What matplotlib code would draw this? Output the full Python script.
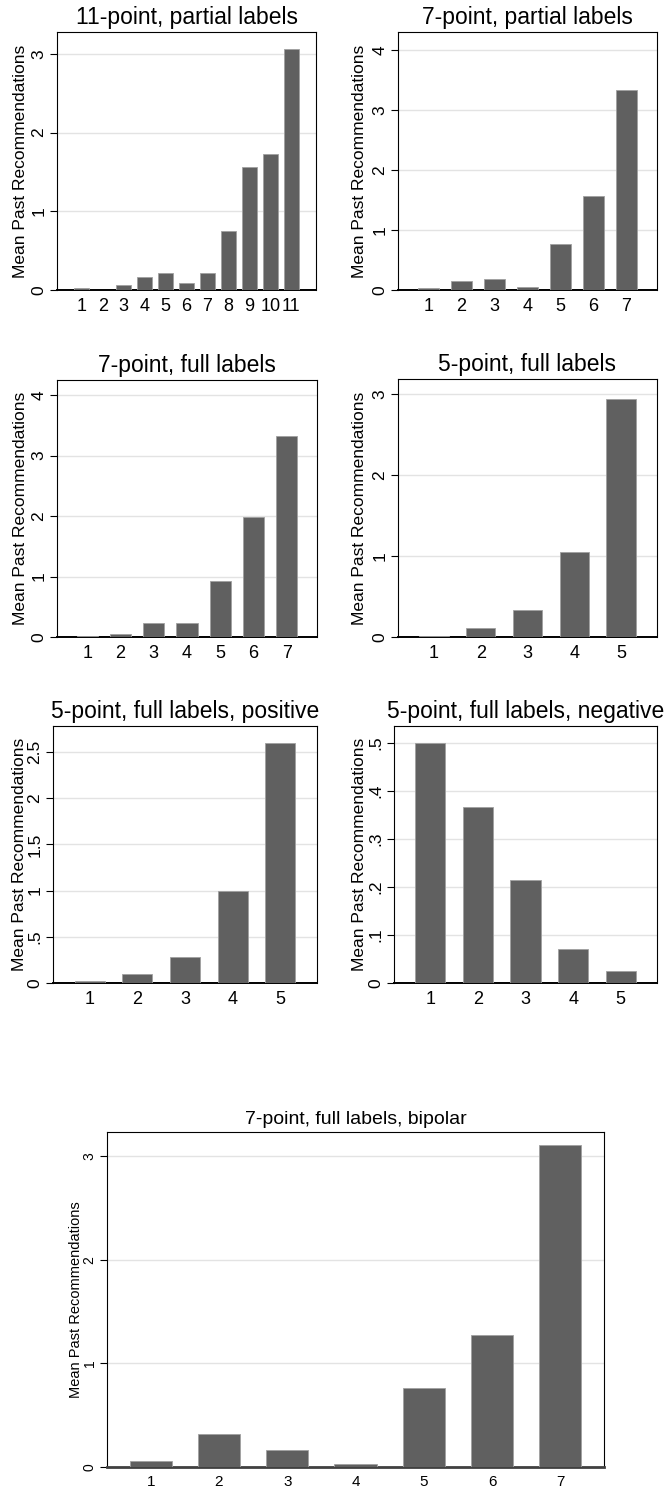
import numpy as np
import matplotlib.pyplot as plt

plt.rcParams['font.family'] = ['Liberation Sans', 'DejaVu Sans']

W, H = 666, 1488

# mean past recommendations by scale point, one list per scale version
titles = [
    "11-point, partial labels",
    "7-point, partial labels",
    "7-point, full labels",
    "5-point, full labels",
    "5-point, full labels, positive",
    "5-point, full labels, negative",
    "7-point, full labels, bipolar",
]
pts11_partial = [0.03, 0.0, 0.065, 0.16, 0.22, 0.095, 0.22, 0.755, 1.57, 1.73, 3.06]
pts7_partial = [0.04, 0.15, 0.18, 0.055, 0.76, 1.57, 3.33]
pts7_full = [0.01, 0.045, 0.23, 0.23, 0.92, 1.99, 3.33]
pts5_full = [0.015, 0.11, 0.33, 1.05, 2.94]
pts5_positive = [0.025, 0.095, 0.285, 1.0, 2.6]
pts5_negative = [0.499, 0.367, 0.215, 0.071, 0.024]
pts7_bipolar = [0.058, 0.32, 0.167, 0.03, 0.762, 1.277, 3.10]

ticks_0to3 = [0, 1, 2, 3]
labels_0to3 = ["0", "1", "2", "3"]
ticks_0to4 = [0, 1, 2, 3, 4]
labels_0to4 = ["0", "1", "2", "3", "4"]
ticks_half = [0, 0.5, 1, 1.5, 2, 2.5]
labels_half = ["0", ".5", "1", "1.5", "2", "2.5"]
ticks_tenth = [0, 0.1, 0.2, 0.3, 0.4, 0.5]
labels_tenth = ["0", ".1", ".2", ".3", ".4", ".5"]

YLABEL = "Mean Past Recommendations"
BAR = '#606060'
EDGE = '#a0a0a0'
GRID = '#e3e3e3'


def px_box(left, top, right, bottom):
    return [left / W, 1 - bottom / H, (right - left) / W, (bottom - top) / H]


def draw_panel(fig, box, title, vals, yticks, ylabels, ytop, pad, width,
               label_x, fs_title=16.5, fs_label=12.5, fs_tick=12.5, fs_xtick=13):
    left, top, right, bottom = box
    ax = fig.add_axes(px_box(*box))
    x = np.arange(1, len(vals) + 1)
    ax.bar(x, vals, width=width, color=BAR, edgecolor=EDGE, linewidth=0.6, zorder=3)
    ax.set_xlim(1 - pad, len(vals) + pad)
    ax.set_ylim(0, ytop)
    ax.set_xticks(x, [str(i) for i in x], fontsize=fs_xtick)
    ax.set_yticks(yticks, ylabels, fontsize=fs_tick, rotation=90, va='center')
    ax.tick_params(axis='x', length=0, pad=6)
    ax.tick_params(axis='y', length=5, width=0.8, pad=2.5, direction='out')
    ax.yaxis.grid(True, color=GRID, lw=1.0)
    ax.set_axisbelow(True)
    for s in ax.spines.values():
        s.set_color('black')
        s.set_linewidth(0.8)
    ax.spines['bottom'].set_linewidth(1.4)
    ax.set_title(title, fontsize=fs_title, pad=6)
    ax.set_ylabel(YLABEL, fontsize=fs_label, va='center')
    ax.yaxis.set_label_coords((label_x - left) / (right - left), 0.5)
    return ax


fig = plt.figure(figsize=(W / 100, H / 100), dpi=100)

draw_panel(fig, (57, 32, 316, 290), titles[0], pts11_partial,
           ticks_0to3, labels_0to3, 3.28, 1.18, 0.70, 21)
draw_panel(fig, (398, 32, 657, 290), titles[1], pts7_partial,
           ticks_0to4, labels_0to4, 4.3, 0.93, 0.64, 359)
draw_panel(fig, (57, 380, 317, 637), titles[2], pts7_full,
           ticks_0to4, labels_0to4, 4.25, 0.91, 0.64, 21)
draw_panel(fig, (398, 379, 657, 637), titles[3], pts5_full,
           ticks_0to3, labels_0to3, 3.19, 0.77, 0.63, 359)
draw_panel(fig, (53, 726, 317, 983), titles[4], pts5_positive,
           ticks_half, labels_half, 2.78, 0.77, 0.63, 20)
draw_panel(fig, (394, 726, 657, 983), titles[5], pts5_negative,
           ticks_tenth, labels_tenth, 0.535, 0.76, 0.64, 360)
ax7 = draw_panel(fig, (107, 1132, 604, 1467), titles[6], pts7_bipolar,
                 ticks_0to3, labels_0to3, 3.23, 0.64, 0.62, 76,
                 fs_title=14, fs_label=10.5, fs_tick=10, fs_xtick=11)
ax7.spines['bottom'].set_color('#404040')
ax7.spines['bottom'].set_linewidth(2.0)

fig.savefig("out.png", dpi=100, facecolor='white')
